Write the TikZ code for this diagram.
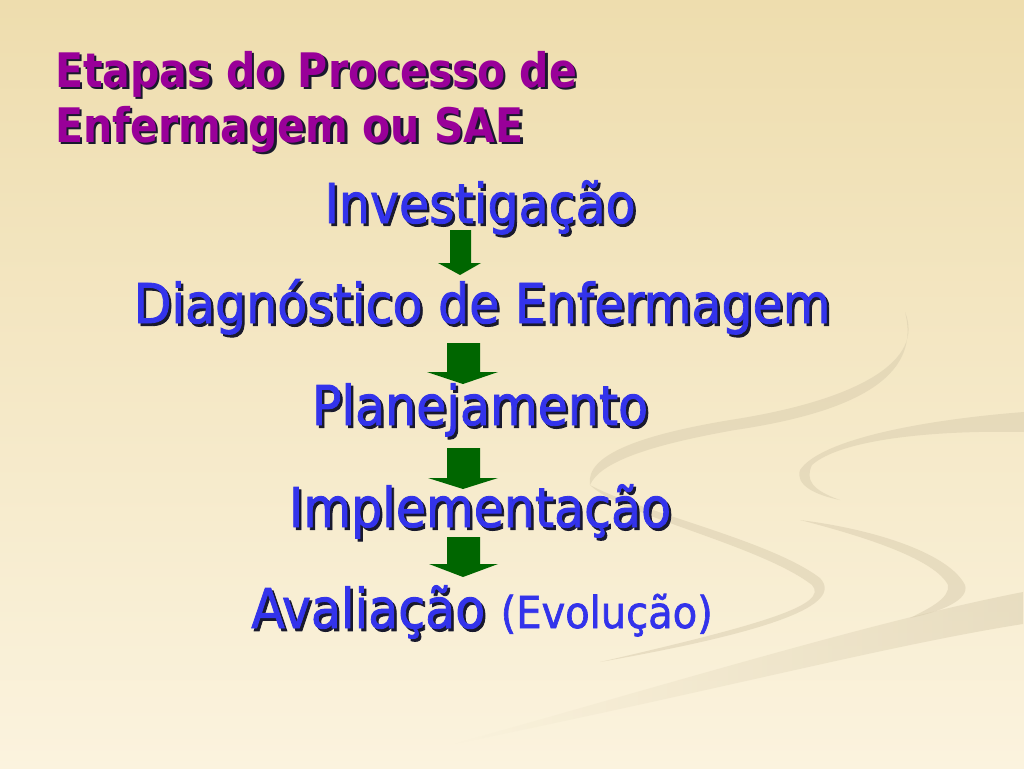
\documentclass[tikz,border=0pt]{standalone}
\usepackage{fontspec}
\setmainfont{DejaVu Sans}
\newfontfamily\stagefam{DejaVu Sans}[FakeBold=1.6]
\newfontfamily\evolfam{DejaVu Sans}[FakeBold=1.6]
\usetikzlibrary{fadings}
\definecolor{bgtop}{RGB}{238,221,174}
\definecolor{bgmid}{RGB}{246,234,204}
\definecolor{bgbot}{RGB}{251,243,222}
\definecolor{txtblue}{RGB}{51,51,235}
\definecolor{titlepurple}{RGB}{153,0,153}
\definecolor{arrowgreen}{RGB}{0,102,0}
\definecolor{swoosh}{RGB}{212,200,170}
\definecolor{shadowc}{RGB}{25,25,45}
\newcommand{\evolfont}{\evolfam\fontsize{40}{48}\selectfont}
\newcommand{\shtext}[2][1.12]{\scalebox{1}[#1]{\makebox[0pt][l]{\hspace{2.5pt}\raisebox{-2.5pt}{\color{shadowc}#2}}#2}}
\tikzset{
  stage/.style={font=\stagefam\fontsize{49}{58}\selectfont, text=txtblue, anchor=base, inner sep=0pt},
  ttl/.style={font=\bfseries\fontsize{41}{48}\selectfont, text=titlepurple, anchor=base west, inner sep=0pt},
  blockarrow/.style={fill=arrowgreen, draw=none},
  swooshband/.style={fill=swoosh, opacity=0.45, draw=none}
}
\begin{document}
\begin{tikzpicture}[x=1pt,y=-1pt]
\useasboundingbox (0,0) rectangle (1024,768);
% background
\shade[top color=bgtop, middle color=bgmid, bottom color=bgbot] (0,0) rectangle (1024,768);
% decorative swooshes
\fill[swooshband, path fading=west] (1024,592) .. controls (880,620) and (700,675) .. (450,745)
   .. controls (720,690) and (890,645) .. (1024,624) -- cycle;
\fill[swooshband] (905,312) .. controls (925,360) and (860,400) .. (730,420)
   .. controls (640,435) and (585,455) .. (590,485)
   .. controls (600,462) and (650,445) .. (735,430)
   .. controls (870,410) and (920,370) .. (905,312) -- cycle;
\fill[swooshband] (590,485) .. controls (620,515) and (760,545) .. (812,585)
   .. controls (830,605) and (760,625) .. (600,662)
   .. controls (770,632) and (845,605) .. (820,578)
   .. controls (770,540) and (640,512) .. (590,485) -- cycle;
\fill[swooshband] (1024,412) .. controls (920,420) and (820,440) .. (800,470)
   .. controls (795,485) and (815,495) .. (840,500)
   .. controls (812,490) and (805,480) .. (812,465)
   .. controls (840,440) and (930,430) .. (1024,432) -- cycle;
\fill[swooshband] (800,520) .. controls (880,530) and (950,555) .. (965,585)
   .. controls (970,600) and (940,612) .. (910,618)
   .. controls (930,608) and (950,598) .. (948,585)
   .. controls (935,560) and (870,538) .. (800,520) -- cycle;
% title
\node[ttl] (t1) at (55,87) {\shtext[1.16]{Etapas do Processo de}};
\node[ttl] (t2) at (55,142) {\shtext[1.16]{Enfermagem ou SAE}};
% stages
\node[stage] (s1) at (480,223) {\shtext{Investigação}};
\node[stage] (s2) at (482,323) {\shtext{Diagnóstico de Enfermagem}};
\node[stage] (s3) at (480,425) {\shtext{Planejamento}};
\node[stage] (s4) at (480,527) {\shtext{Implementação}};
\node[stage] (s5) at (482,628) {\shtext{Avaliação} {\evolfont\scalebox{1}[1.1]{(Evolução)}}};
% block arrows
\fill[blockarrow] (450,230) -- (471,230) -- (471,263) -- (481,263) -- (460,275) -- (438,263) -- (450,263) -- cycle;
\fill[blockarrow] (447,343) -- (480,343) -- (480,372) -- (498,372) -- (463,384) -- (427,372) -- (447,372) -- cycle;
\fill[blockarrow] (447,448) -- (480,448) -- (480,478) -- (498,478) -- (463,489) -- (428,478) -- (447,478) -- cycle;
\fill[blockarrow] (447,537) -- (480,537) -- (480,564) -- (498,564) -- (463,577) -- (429,564) -- (447,564) -- cycle;
\end{tikzpicture}
\end{document}
